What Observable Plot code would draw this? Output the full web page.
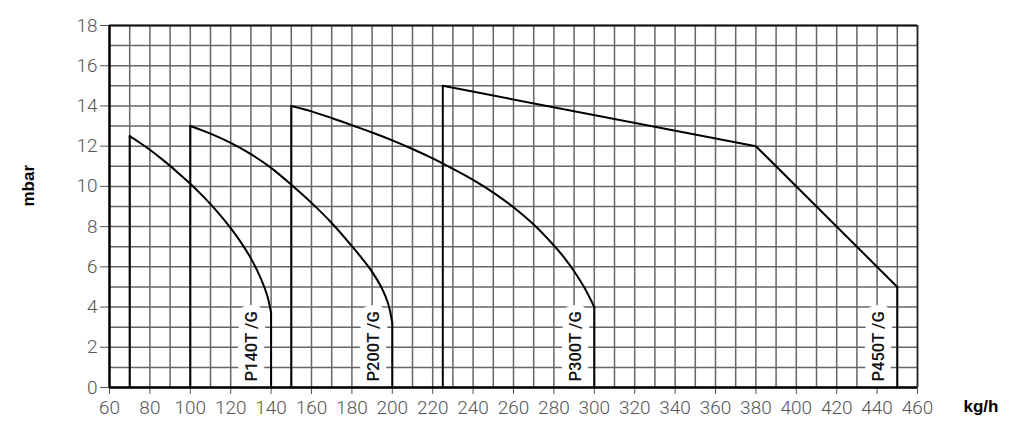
<!DOCTYPE html>
<html>
<head>
<meta charset="utf-8">
<script src="https://cdn.jsdelivr.net/npm/d3@7"></script>
<script src="https://cdn.jsdelivr.net/npm/@observablehq/plot@0.6"></script>
<style>
  html, body { margin: 0; padding: 0; background: #fff; }
  #chart svg { display: block; }
</style>
</head>
<body>
<div id="chart"></div>
<script>
// ---- data ----
const xTicks = [60, 80, 100, 120, 140, 160, 180, 200, 220, 240, 260, 280, 300, 320, 340, 360, 380, 400, 420, 440, 460];
const yTicks = [0, 2, 4, 6, 8, 10, 12, 14, 16, 18];
const xGrid = [60, 70, 80, 90, 100, 110, 120, 130, 140, 150, 160, 170, 180, 190, 200, 210, 220, 230, 240, 250, 260, 270, 280, 290, 300, 310, 320, 330, 340, 350, 360, 370, 380, 390, 400, 410, 420, 430, 440, 450, 460];
const yGrid = [0, 1, 2, 3, 4, 5, 6, 7, 8, 9, 10, 11, 12, 13, 14, 15, 16, 17, 18];

const seriesNames = ["P140T /G", "P200T /G", "P300T /G", "P450T /G"];

const p140x = [70, 75, 80, 85, 90, 95, 100, 105, 110, 115, 120, 125, 130, 135, 138, 140];
const p140y = [12.5, 12.17, 11.82, 11.43, 11.02, 10.58, 10.13, 9.64, 9.12, 8.55, 7.93, 7.23, 6.42, 5.4, 4.6, 3.7];

const p200x = [100, 110, 120, 130, 140, 150, 160, 170, 180, 185, 190, 195, 198, 200];
const p200y = [13.0, 12.62, 12.16, 11.6, 10.92, 10.08, 9.18, 8.18, 7.03, 6.42, 5.75, 4.9, 4.15, 3.2];

const p300x = [150, 160, 170, 180, 190, 200, 210, 220, 230, 240, 250, 260, 270, 280, 285, 290, 295, 300];
const p300y = [14.0, 13.73, 13.4, 13.04, 12.68, 12.29, 11.86, 11.39, 10.87, 10.32, 9.69, 8.96, 8.1, 7.06, 6.47, 5.78, 4.98, 4.0];

const p450x = [225, 380, 450];
const p450y = [15.0, 12.0, 5.0];

// ---- build tables ----
const curves = [
  {name: seriesNames[0], xs: p140x, ys: p140y, smooth: true},
  {name: seriesNames[1], xs: p200x, ys: p200y, smooth: true},
  {name: seriesNames[2], xs: p300x, ys: p300y, smooth: true},
  {name: seriesNames[3], xs: p450x, ys: p450y, smooth: false}
];
const pts = c => c.xs.map((x, i) => ({name: c.name, x, y: c.ys[i]}));
const smoothPts = curves.filter(c => c.smooth).flatMap(pts);
const straightPts = curves.filter(c => !c.smooth).flatMap(pts);
const starts = curves.map(c => ({name: c.name, x: c.xs[0], y: c.ys[0]}));
const ends = curves.map(c => ({name: c.name, x: c.xs[c.xs.length - 1], y: c.ys[c.ys.length - 1]}));

const titleFont = "'Liberation Sans', Arial, sans-serif";
const labelFont = "Roboto, 'Liberation Sans', sans-serif";
const tickFont = "Roboto, 'Liberation Sans', sans-serif";

const chart = Plot.plot({
  width: 1024,
  height: 429,
  marginLeft: 109,
  marginRight: 107,
  marginTop: 25,
  marginBottom: 42,
  style: {fontFamily: tickFont, fontSize: "19px", fontWeight: 300, color: "#555", background: "#fff", overflow: "visible"},
  x: {domain: [60, 460], ticks: xTicks, tickSize: 7, tickPadding: 6, label: null},
  y: {domain: [0, 18], ticks: yTicks, tickSize: 9, tickPadding: 3, label: null},
  marks: [
    Plot.ruleX(xGrid, {stroke: "#666", strokeWidth: 1.5}),
    Plot.ruleY(yGrid, {stroke: "#666", strokeWidth: 1.5}),
    // white halo behind the series labels
    Plot.text(ends, {x: "x", y: 0, text: "name", rotate: -90, textAnchor: "start", dx: -19, dy: -6,
      fontSize: 16.5, fontWeight: 500, fontFamily: labelFont, fill: "white", stroke: "white", strokeWidth: 14, strokeLinejoin: "round"}),
    Plot.text(ends, {x: "x", y: 0, text: "name", rotate: -90, textAnchor: "start", dx: -19, dy: -6,
      fontSize: 16.5, fontWeight: 500, fontFamily: labelFont, fill: "#111"}),
    // frame
    Plot.ruleY([18], {stroke: "#111", strokeWidth: 1.8}),
    Plot.ruleX([460], {stroke: "#222", strokeWidth: 1.6}),
    Plot.ruleY([0], {stroke: "#000", strokeWidth: 2.4}),
    Plot.ruleX([60], {stroke: "#000", strokeWidth: 2.4}),
    // series
    Plot.ruleX(starts, {x: "x", y1: 0, y2: "y", stroke: "#000", strokeWidth: 2}),
    Plot.ruleX(ends, {x: "x", y1: 0, y2: "y", stroke: "#000", strokeWidth: 2}),
    Plot.line(smoothPts, {x: "x", y: "y", z: "name", curve: "catmull-rom", stroke: "#000", strokeWidth: 2}),
    Plot.line(straightPts, {x: "x", y: "y", z: "name", stroke: "#000", strokeWidth: 2}),
    // axis titles
    Plot.text(["mbar"], {frameAnchor: "left", text: d => d, rotate: -90, dx: -81, dy: 0,
      fontSize: 17, fontWeight: "bold", fontFamily: titleFont, fill: "#000"}),
    Plot.text(["kg/h"], {frameAnchor: "bottom-right", text: d => d, textAnchor: "start", dx: 46, dy: 24,
      fontSize: 17, fontWeight: "bold", fontFamily: titleFont, fill: "#000"})
  ]
});
document.getElementById("chart").appendChild(chart);
</script>
</body>
</html>
